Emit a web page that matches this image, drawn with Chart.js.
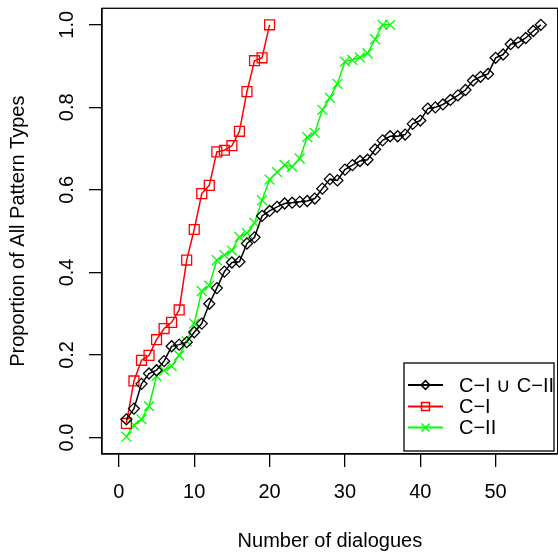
<!DOCTYPE html>
<html>
<head>
<meta charset="utf-8">
<script src="https://cdn.jsdelivr.net/npm/chart.js@4/dist/chart.umd.min.js"></script>
<style>
  html, body { margin: 0; padding: 0; background: #fff; overflow: hidden; }
  #wrap { width: 566px; height: 554px; }
</style>
</head>
<body>
<div id="wrap"><canvas id="chart" width="566" height="554"></canvas></div>
<script>
// number of dialogues (x) and the cumulative proportions
const dialogues = [1, 2, 3, 4, 5, 6, 7, 8, 9, 10, 11, 12, 13, 14, 15, 16, 17, 18, 19, 20,
  21, 22, 23, 24, 25, 26, 27, 28, 29, 30, 31, 32, 33, 34, 35, 36, 37, 38, 39, 40,
  41, 42, 43, 44, 45, 46, 47, 48, 49, 50, 51, 52, 53, 54, 55, 56];

const unionVals = [0.044, 0.07, 0.13, 0.155, 0.163, 0.185, 0.221, 0.225, 0.231, 0.255,
  0.276, 0.324, 0.362, 0.402, 0.424, 0.426, 0.47, 0.485, 0.537, 0.549,
  0.559, 0.567, 0.569, 0.571, 0.573, 0.579, 0.603, 0.626, 0.623, 0.649,
  0.66, 0.67, 0.673, 0.698, 0.72, 0.73, 0.73, 0.734, 0.76, 0.768,
  0.797, 0.8, 0.807, 0.818, 0.829, 0.842, 0.865, 0.874, 0.881, 0.92,
  0.928, 0.953, 0.957, 0.968, 0.985, 1.0];

const c1Vals = [0.034, 0.137, 0.187, 0.199, 0.237, 0.264, 0.279, 0.309, 0.43, 0.504,
  0.591, 0.611, 0.692, 0.696, 0.707, 0.742, 0.838, 0.913, 0.92, 1.0];

const c2Vals = [0.002, 0.03, 0.044, 0.076, 0.149, 0.163, 0.173, 0.199, 0.233, 0.276,
  0.355, 0.368, 0.43, 0.442, 0.453, 0.486, 0.495, 0.52, 0.575, 0.625,
  0.643, 0.66, 0.656, 0.676, 0.728, 0.738, 0.794, 0.823, 0.857, 0.911,
  0.915, 0.921, 0.931, 0.965, 1.0, 1.0];

const xTicks = [0, 10, 20, 30, 40, 50];
const yTicks = [0, 0.2, 0.4, 0.6, 0.8, 1.0];

const seriesNames = ['C\u2212I \u222A C\u2212II', 'C\u2212I', 'C\u2212II'];
const seriesColors = ['#000000', '#ff0000', '#00ff00'];
const seriesShapes = ['rectRot', 'rect', 'crossRot'];
const seriesRadius = [5.5, 7, 7];

const FONT = '"Liberation Sans", Arial, Helvetica, sans-serif';
Chart.defaults.font.family = FONT;
Chart.defaults.font.size = 20;
Chart.defaults.color = '#000';

const toPoints = (vals) => vals.map((v, i) => ({ x: dialogues[i], y: v }));
const allVals = [unionVals, c1Vals, c2Vals];

const datasets = allVals.map((vals, i) => ({
  label: seriesNames[i],
  data: toPoints(vals),
  borderColor: seriesColors[i],
  backgroundColor: 'rgba(0,0,0,0)',
  borderWidth: 1.5,
  pointStyle: seriesShapes[i],
  pointRadius: seriesRadius[i],
  pointBorderWidth: 1.3,
  pointBorderColor: seriesColors[i],
  pointBackgroundColor: 'rgba(0,0,0,0)',
  tension: 0,
  fill: false
}));

// box round the plot region
const boxPlugin = {
  id: 'box',
  afterDraw(chart) {
    const { ctx, chartArea: a } = chart;
    ctx.save();
    ctx.strokeStyle = '#000';
    ctx.lineWidth = 1.3;
    ctx.strokeRect(a.left, a.top, a.right - a.left, a.bottom - a.top);
    ctx.restore();
  }
};

// R style legend in the lower right corner
const legendPlugin = {
  id: 'rlegend',
  afterDraw(chart) {
    const ctx = chart.ctx;
    const left = 404, top = 363, w = 150, h = 88;
    const rows = [385, 406.5, 427.5];
    ctx.save();
    ctx.fillStyle = '#fff';
    ctx.fillRect(left, top, w, h);
    ctx.strokeStyle = '#000';
    ctx.lineWidth = 1.3;
    ctx.strokeRect(left, top, w, h);
    rows.forEach((y, i) => {
      ctx.strokeStyle = seriesColors[i];
      ctx.lineWidth = 2;
      ctx.beginPath();
      ctx.moveTo(408, y);
      ctx.lineTo(443, y);
      ctx.stroke();
      ctx.lineWidth = 1.5;
      ctx.fillStyle = 'rgba(0,0,0,0)';
      Chart.helpers.drawPoint(ctx, {
        pointStyle: seriesShapes[i],
        radius: seriesRadius[i] * 0.8,
        rotation: 0,
        borderWidth: 1.5
      }, 425.5, y);
      ctx.fillStyle = '#000';
      ctx.font = '20px ' + FONT;
      ctx.textAlign = 'left';
      ctx.textBaseline = 'middle';
      ctx.fillText(seriesNames[i], 459, y + 1);
    });
    ctx.restore();
  }
};

const noPad = (s) => { s.paddingTop = 0; s.paddingBottom = 0; s.paddingLeft = 0; s.paddingRight = 0; };

new Chart(document.getElementById('chart'), {
  type: 'line',
  data: { datasets },
  plugins: [boxPlugin, legendPlugin],
  options: {
    responsive: false,
    animation: false,
    layout: { padding: { top: 7, right: 4, left: 0, bottom: 0 } },
    plugins: {
      legend: { display: false },
      tooltip: { enabled: false }
    },
    scales: {
      x: {
        type: 'linear',
        min: -2.24,
        max: 58.24,
        afterFit: (s) => { s.height = 100; noPad(s); },
        afterBuildTicks: (s) => { s.ticks = xTicks.map(v => ({ value: v })); },
        grid: { drawOnChartArea: false, drawTicks: true, tickLength: 13, color: '#000', lineWidth: 1.3 },
        border: { display: true, color: '#000', width: 1.3 },
        ticks: { padding: 13, maxRotation: 0, color: '#000', callback: (v) => String(v) },
        title: { display: true, text: 'Number of dialogues', padding: { top: 0, bottom: 1 } }
      },
      y: {
        min: -0.04,
        max: 1.04,
        afterFit: (s) => { s.width = 102; noPad(s); },
        afterBuildTicks: (s) => { s.ticks = yTicks.map(v => ({ value: v })); },
        grid: { drawOnChartArea: false, drawTicks: true, tickLength: 13, color: '#000', lineWidth: 1.3 },
        border: { display: true, color: '#000', width: 1.3 },
        ticks: { padding: 8, minRotation: 90, maxRotation: 90, crossAlign: 'center', color: '#000',
          callback: (v) => v.toFixed(1) },
        title: { display: true, text: 'Proportion of All Pattern Types', padding: { top: 6, bottom: 0 } }
      }
    }
  }
});
</script>
</body>
</html>
